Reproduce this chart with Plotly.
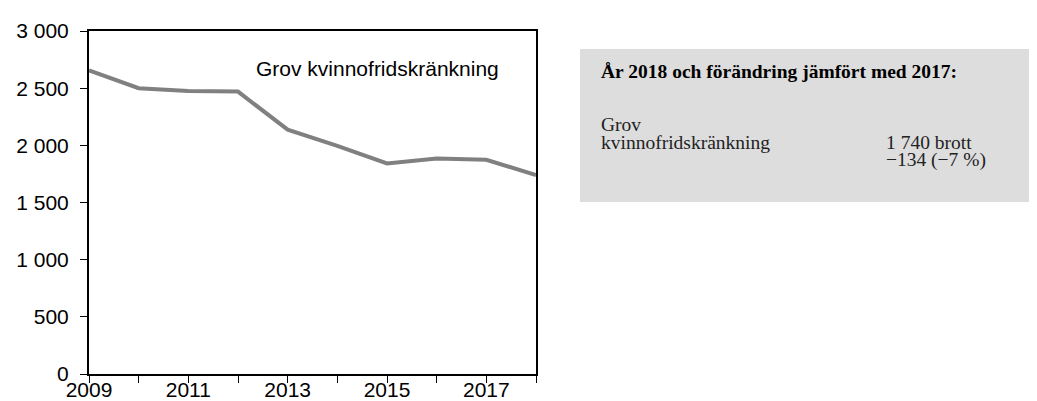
import plotly.graph_objects as go

# ---- data ----
years = [2009, 2010, 2011, 2012, 2013, 2014, 2015, 2016, 2017, 2018]
values = [2656, 2500, 2475, 2470, 2137, 1996, 1842, 1885, 1874, 1740]
series_name = "Grov kvinnofridskränkning"
x_tick_vals = years
x_tick_text = ["2009", "", "2011", "", "2013", "", "2015", "", "2017", ""]
y_tick_vals = [0, 500, 1000, 1500, 2000, 2500, 3000]
y_tick_text = ["0", "500", "1 000", "1 500", "2 000", "2 500", "3 000"]

box_title = "År 2018 och förändring jämfört med 2017:"
box_label_lines = ["Grov", "kvinnofridskränkning"]
box_value_lines = ["1 740 brott", "\u2212134 (\u22127 %)"]

# ---- layout geometry (pixels) ----
W, H = 1037, 401
L, R, T, B = 81, 528, 23, 366


def px(x):
    return (x - L) / (R - L)


def py(y):
    return (B - y) / (B - T)


fig = go.Figure()
fig.add_trace(go.Scatter(
    x=years, y=values, mode="lines", name=series_name,
    line=dict(color="#808080", width=4), showlegend=False,
))

sans = "Liberation Sans, Arial, sans-serif"
serif = "Liberation Serif, Times New Roman, serif"

fig.update_layout(
    width=W, height=H, autosize=False,
    margin=dict(l=L, r=W - R, t=T, b=H - B, pad=0),
    plot_bgcolor="white", paper_bgcolor="white",
    font=dict(family=sans, size=21, color="black"),
    xaxis=dict(
        range=[years[0], years[-1]], tickmode="array",
        tickvals=x_tick_vals, ticktext=x_tick_text,
        showgrid=False, zeroline=False, automargin=False,
        showline=True, linecolor="black", linewidth=2, mirror=True,
        ticks="outside", ticklen=7, tickwidth=1, tickcolor="black",
        ticklabelstandoff=-11,
        tickfont=dict(family=sans, size=21, color="black"),
    ),
    yaxis=dict(
        range=[0, 3000], tickmode="array",
        tickvals=y_tick_vals, ticktext=y_tick_text,
        showgrid=False, zeroline=False, automargin=False,
        showline=True, linecolor="black", linewidth=2, mirror=True,
        ticks="outside", ticklen=7, tickwidth=1, tickcolor="black",
        ticklabelstandoff=7,
        tickfont=dict(family=sans, size=21, color="black"),
    ),
)

# label inside the chart
fig.add_annotation(
    xref="paper", yref="paper", x=px(246), y=py(61),
    text=series_name, showarrow=False, xanchor="left", yanchor="middle",
    font=dict(family=sans, size=21, color="black"),
)

# grey info box
fig.add_shape(
    type="rect", xref="paper", yref="paper",
    x0=px(572), x1=px(1037), y0=py(194), y1=py(41),
    fillcolor="#dddddd", line=dict(width=0), layer="below",
)
fig.add_annotation(
    xref="paper", yref="paper", x=px(591), y=py(63),
    text="<b>" + box_title + "</b>", showarrow=False,
    xanchor="left", yanchor="middle",
    font=dict(family=serif, size=19.5, color="black"),
)
for i, line in enumerate(box_label_lines):
    fig.add_annotation(
        xref="paper", yref="paper", x=px(591), y=py(116 + i * 18),
        text=line, showarrow=False, xanchor="left", yanchor="middle",
        font=dict(family=serif, size=19.5, color="#222222"),
    )
for i, line in enumerate(box_value_lines):
    fig.add_annotation(
        xref="paper", yref="paper", x=px(876), y=py(134 + i * 18),
        text=line, showarrow=False, xanchor="left", yanchor="middle",
        font=dict(family=serif, size=19.5, color="#222222"),
    )

fig.write_html("out.html")
